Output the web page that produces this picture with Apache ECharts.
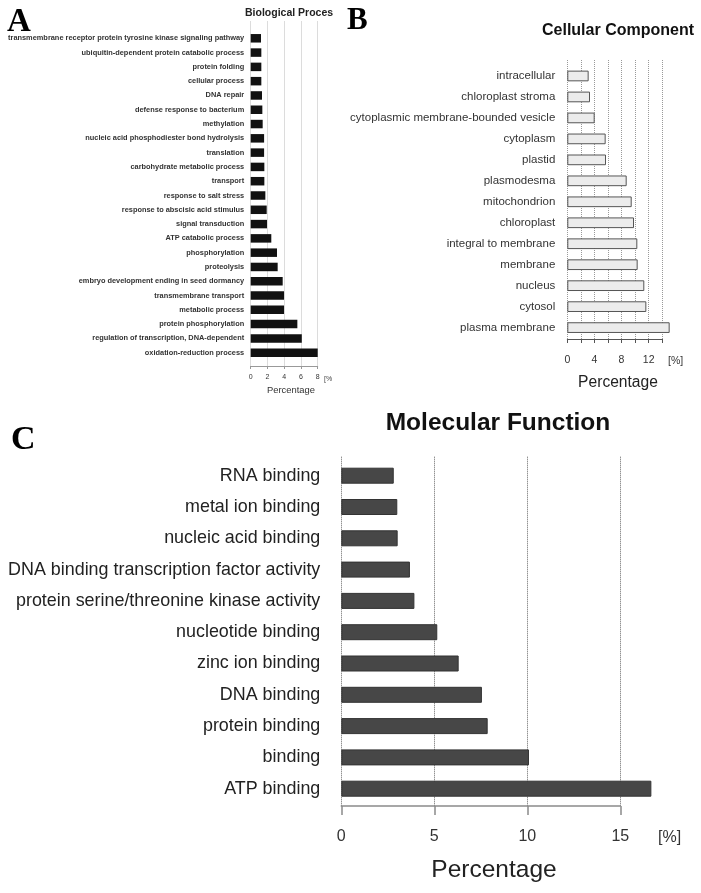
<!DOCTYPE html>
<html>
<head>
<meta charset="utf-8">
<script src="https://cdn.jsdelivr.net/npm/echarts@6/dist/echarts.min.js"></script>
<style>
html,body{margin:0;padding:0;background:#fff;}
#c{width:701px;height:893px;}
</style>
</head>
<body>
<div id="c"></div>
<script>
// ---- Data ----
var bpCategories = [
  'transmembrane receptor protein tyrosine kinase signaling pathway',
  'ubiquitin-dependent protein catabolic process',
  'protein folding',
  'cellular process',
  'DNA repair',
  'defense response to bacterium',
  'methylation',
  'nucleic acid phosphodiester bond hydrolysis',
  'translation',
  'carbohydrate metabolic process',
  'transport',
  'response to salt stress',
  'response to abscisic acid stimulus',
  'signal transduction',
  'ATP catabolic process',
  'phosphorylation',
  'proteolysis',
  'embryo development ending in seed dormancy',
  'transmembrane transport',
  'metabolic process',
  'protein phosphorylation',
  'regulation of transcription, DNA-dependent',
  'oxidation-reduction process'
];
var bpValues = [1.23, 1.27, 1.27, 1.27, 1.35, 1.39, 1.43, 1.6, 1.6, 1.63, 1.63, 1.75, 1.91, 1.95, 2.46, 3.14, 3.22, 3.82, 3.98, 3.98, 5.57, 6.1, 8.0];

var ccCategories = [
  'intracellular', 'chloroplast stroma', 'cytoplasmic membrane-bounded vesicle', 'cytoplasm',
  'plastid', 'plasmodesma', 'mitochondrion', 'chloroplast', 'integral to membrane',
  'membrane', 'nucleus', 'cytosol', 'plasma membrane'
];
var ccValues = [3.15, 3.35, 4.04, 5.66, 5.71, 8.76, 9.5, 9.84, 10.33, 10.38, 11.36, 11.66, 15.1];

var mfCategories = [
  'RNA binding', 'metal ion binding', 'nucleic acid binding',
  'DNA binding transcription factor activity', 'protein serine/threonine kinase activity',
  'nucleotide binding', 'zinc ion binding', 'DNA binding', 'protein binding', 'binding', 'ATP binding'
];
var mfValues = [2.82, 3.01, 3.03, 3.69, 3.93, 5.16, 6.31, 7.56, 7.87, 10.09, 16.67];

var bpTitle = 'Biological Proces';
var ccTitle = 'Cellular Component';
var mfTitle = 'Molecular Function';
var axisTitle = 'Percentage';

// ---- Layout ----
var FONT = '"Liberation Sans", Arial, Helvetica, sans-serif';
var SERIF = '"Liberation Serif", "Times New Roman", serif';

var chart = echarts.init(document.getElementById('c'), null, {renderer: 'canvas'});

function gridBox(left, width, top, height) {
  return {left: left, width: width, top: top, height: height, containLabel: false};
}

var grids = [
  // A: frame grid (grid lines + axis), bars grid
  gridBox(250.7, 67, 21, 345),
  gridBox(250.7, 67, 31.15, 328.7),
  // B
  gridBox(567.3, 94.9, 60, 279),
  gridBox(567.3, 94.9, 65.5, 272.6),
  // C
  gridBox(341.3, 279, 456.7, 349.3),
  gridBox(341.3, 279, 460.05, 344.3)
];

function frameX(gi, max, interval, offset, o) {
  return {
    gridIndex: gi, type: 'value', min: 0, max: max, interval: interval,
    position: 'bottom', offset: offset,
    axisLine: {show: true, lineStyle: {color: o.axisColor, width: o.axisWidth || 1}},
    axisTick: {show: true, length: o.tickLen, lineStyle: {color: o.axisColor, width: o.axisWidth || 1}},
    axisLabel: {fontFamily: FONT, fontSize: o.labelSize, color: '#333', margin: o.labelMargin,
      formatter: o.formatter || function (v) { return String(v); }},
    splitLine: {show: true, lineStyle: {color: o.gridColor, type: o.gridType, width: 1}}
  };
}
function hiddenX(gi, max) {
  return {gridIndex: gi, type: 'value', min: 0, max: max, show: false, splitLine: {show: false}};
}
function hiddenY(gi) {
  return {gridIndex: gi, type: 'value', min: 0, max: 1, show: false, splitLine: {show: false}};
}
function catY(gi, cats, o) {
  return {
    gridIndex: gi, type: 'category', data: cats, inverse: true,
    axisLine: {show: false}, axisTick: {show: false}, splitLine: {show: false},
    axisLabel: {fontFamily: FONT, fontSize: o.size, fontWeight: o.weight || 'normal',
      color: o.color, margin: o.margin, interval: 0}
  };
}

var option = {
  backgroundColor: '#ffffff',
  animation: false,
  grid: grids,
  xAxis: [
    frameX(0, 8, 2, 4, {axisColor: '#999', tickLen: 3, labelSize: 7, labelMargin: 4, gridColor: '#dcdcdc', gridType: 'solid'}),
    hiddenX(1, 8),
    frameX(2, 14, 2, 5, {axisColor: '#555', tickLen: 4, labelSize: 10.5, labelMargin: 11, gridColor: '#999', gridType: 'dotted',
      formatter: function (v) { return v % 4 === 0 ? String(v) : ''; }}),
    hiddenX(3, 14),
    frameX(4, 15, 5, 3, {axisColor: '#8a8a8a', axisWidth: 1.5, tickLen: 9, labelSize: 16, labelMargin: 20, gridColor: '#666', gridType: 'dotted'}),
    hiddenX(5, 15)
  ],
  yAxis: [
    hiddenY(0),
    catY(1, bpCategories, {size: 7.4, weight: 'bold', color: '#333', margin: 6.5}),
    hiddenY(2),
    catY(3, ccCategories, {size: 11.5, color: '#333', margin: 12}),
    hiddenY(4),
    catY(5, mfCategories, {size: 17.9, color: '#222', margin: 21})
  ],
  series: [
    {type: 'bar', xAxisIndex: 1, yAxisIndex: 1, data: bpValues, barWidth: 8.5, clip: false,
      itemStyle: {color: '#111111'}},
    {type: 'bar', xAxisIndex: 3, yAxisIndex: 3, data: ccValues, barWidth: 10.7, clip: false,
      itemStyle: {color: '#ececec', borderColor: '#555555', borderWidth: 1}},
    {type: 'bar', xAxisIndex: 5, yAxisIndex: 5, data: mfValues, barWidth: 16, clip: false,
      itemStyle: {color: '#474747', borderColor: '#333333', borderWidth: 1}}
  ],
  graphic: [
    // panel letters
    {type: 'text', left: 7, top: 6, style: {text: 'A', font: 'bold 33px ' + SERIF, fill: '#000'}},
    {type: 'text', left: 347, top: 5, style: {text: 'B', font: 'bold 31px ' + SERIF, fill: '#000'}},
    {type: 'text', left: 11, top: 423, style: {text: 'C', font: 'bold 34px ' + SERIF, fill: '#000'}},
    // titles
    {type: 'text', x: 245, y: 13, style: {text: bpTitle, font: 'bold 10.5px ' + FONT, fill: '#222', textAlign: 'left', textVerticalAlign: 'middle'}},
    {type: 'text', x: 618, y: 31, style: {text: ccTitle, font: 'bold 16px ' + FONT, fill: '#111', textAlign: 'center', textVerticalAlign: 'middle'}},
    {type: 'text', x: 498, y: 423, style: {text: mfTitle, font: 'bold 24.5px ' + FONT, fill: '#111', textAlign: 'center', textVerticalAlign: 'middle'}},
    // axis titles
    {type: 'text', x: 291, y: 390, style: {text: axisTitle, font: '9.4px ' + FONT, fill: '#333', textAlign: 'center', textVerticalAlign: 'middle'}},
    {type: 'text', x: 618, y: 383, style: {text: axisTitle, font: '15.6px ' + FONT, fill: '#222', textAlign: 'center', textVerticalAlign: 'middle'}},
    {type: 'text', x: 494, y: 870, style: {text: axisTitle, font: '24.5px ' + FONT, fill: '#222', textAlign: 'center', textVerticalAlign: 'middle'}},
    // unit labels
    {type: 'text', x: 324, y: 379, style: {text: '[%', font: '7px ' + FONT, fill: '#444', textAlign: 'left', textVerticalAlign: 'middle'}},
    {type: 'text', x: 668, y: 361.5, style: {text: '[%]', font: '10.5px ' + FONT, fill: '#333', textAlign: 'left', textVerticalAlign: 'middle'}},
    {type: 'text', x: 658, y: 838, style: {text: '[%]', font: '16px ' + FONT, fill: '#333', textAlign: 'left', textVerticalAlign: 'middle'}}
  ]
};
chart.setOption(option);
</script>
</body>
</html>
